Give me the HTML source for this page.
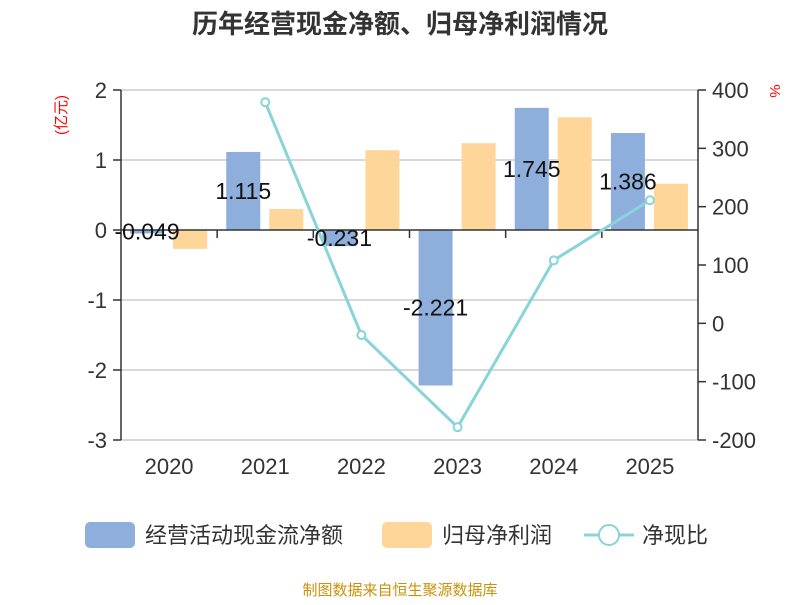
<!DOCTYPE html>
<html><head><meta charset="utf-8"><style>
body{margin:0;background:#fff;}
svg text{font-family:"Liberation Sans","Noto Sans CJK SC",sans-serif;}
</style></head><body>
<svg width="800" height="600" xmlns="http://www.w3.org/2000/svg">
<text x="400" y="33" text-anchor="middle" font-size="26" font-weight="bold" fill="#333">历年经营现金净额、归母净利润情况</text>
<g id="grid"></g><g id="bars"></g><g id="axes"></g><g id="line"></g><g id="labels"></g>
<text transform="translate(66,115) rotate(-90)" text-anchor="middle" font-size="15" fill="red">(亿元)</text>
<text transform="translate(770,91) rotate(90)" text-anchor="middle" font-size="15" fill="red">%</text>
<g>
<rect x="85" y="522" width="50" height="26" rx="5" fill="#8eaedb"/>
<text x="145" y="543" font-size="22" fill="#333">经营活动现金流净额</text>
<rect x="382" y="522" width="50" height="26" rx="5" fill="#ffd699"/>
<text x="442" y="543" font-size="22" fill="#333">归母净利润</text>
<line x1="584" y1="535" x2="634" y2="535" stroke="#88d4d8" stroke-width="3"/>
<circle cx="609" cy="535" r="10" fill="#fff" stroke="#88d4d8" stroke-width="2"/>
<text x="642" y="543" font-size="22" fill="#333">净现比</text>
</g>
<text x="400" y="595" text-anchor="middle" font-size="15" fill="#c8920a">制图数据来自恒生聚源数据库</text>
</svg>
<script>
const categories=["2020","2021","2022","2023","2024","2025"];
const cashFlow=[-0.049,1.115,-0.231,-2.221,1.745,1.386];
const netProfit=[-0.27,0.30,1.14,1.24,1.61,0.66];
const ratio=[null,379,-20,-178,108,211];
const leftTicks=[2,1,0,-1,-2,-3];
const rightTicks=[400,300,200,100,0,-100,-200];
const NS="http://www.w3.org/2000/svg";
const X0=121,X1=698,Y0=90,Y1=440;
const bw=(X1-X0)/categories.length;
const yL=v=>Y0+(2-v)/5*(Y1-Y0);
const yR=v=>Y0+(400-v)/600*(Y1-Y0);
const cx=i=>X0+bw*(i+0.5);
function mk(t,a,p){const e=document.createElementNS(NS,t);for(const k in a)e.setAttribute(k,a[k]);document.getElementById(p).appendChild(e);return e;}
leftTicks.forEach(v=>{const y=yL(v);
 if(v!==0){const g=mk('line',{x1:X0,x2:X1,y1:y,y2:y,stroke:'#ccc','stroke-width':1.5},'grid');
 
 }
 const t=mk('line',{x1:X0-8,x2:X0,y1:y,y2:y,stroke:'#333','stroke-width':1.5},'axes');
 
 
 const l=mk('text',{x:X0-14,y:y+8,'text-anchor':'end','font-size':22,fill:'#333'},'axes');l.textContent=v;
 
 });
rightTicks.forEach(v=>{const y=yR(v);
 const t=mk('line',{x1:X1,x2:X1+8,y1:y,y2:y,stroke:'#333','stroke-width':1.5},'axes');
 
 
 const l=mk('text',{x:X1+14,y:y+8,'font-size':22,fill:'#333'},'axes');l.textContent=v;
 
 });
let a=mk('line',{x1:X0,x2:X0,y1:Y0,y2:Y1,stroke:'#333','stroke-width':1.5},'axes');


a=mk('line',{x1:X1,x2:X1,y1:Y0,y2:Y1,stroke:'#333','stroke-width':1.5},'axes');


const z=yL(0);
a=mk('line',{x1:X0,x2:X1,y1:z,y2:z,stroke:'#333','stroke-width':1.5},'axes');


categories.forEach((c,i)=>{
 if(i>0){const t=mk('line',{x1:X0+bw*i,x2:X0+bw*i,y1:z,y2:z+8,stroke:'#333','stroke-width':1.5},'axes');
 
 }
 const l=mk('text',{x:cx(i),y:474,'text-anchor':'middle','font-size':22,fill:'#333'},'axes');l.textContent=c;
 
 
 const v=cashFlow[i],y=yL(v);
 const b=mk('rect',{x:cx(i)-39,y:Math.min(y,z),width:34,height:Math.abs(y-z),fill:'#8eaedb'},'bars');
 
 
 const p=netProfit[i],yp=yL(p);
 const b2=mk('rect',{x:cx(i)+4,y:Math.min(yp,z),width:34,height:Math.abs(yp-z),fill:'#ffd699'},'bars');
 
 
 const t=mk('text',{x:cx(i)-22,y:(y+z)/2+8,'text-anchor':'middle','font-size':23,fill:'#111'},'labels');t.textContent=v.toFixed(3);
 
 
});
const pts=[];ratio.forEach((v,i)=>{if(v!==null)pts.push([cx(i),yR(v)]);});
const pl=mk('polyline',{points:pts.map(p=>p.join(',')).join(' '),fill:'none',stroke:'#88d4d8','stroke-width':3},'line');


pts.forEach(p=>{const c=mk('circle',{cx:p[0],cy:p[1],r:4,fill:'#fff',stroke:'#88d4d8','stroke-width':2},'line');
 
 });
</script>
</body></html>
